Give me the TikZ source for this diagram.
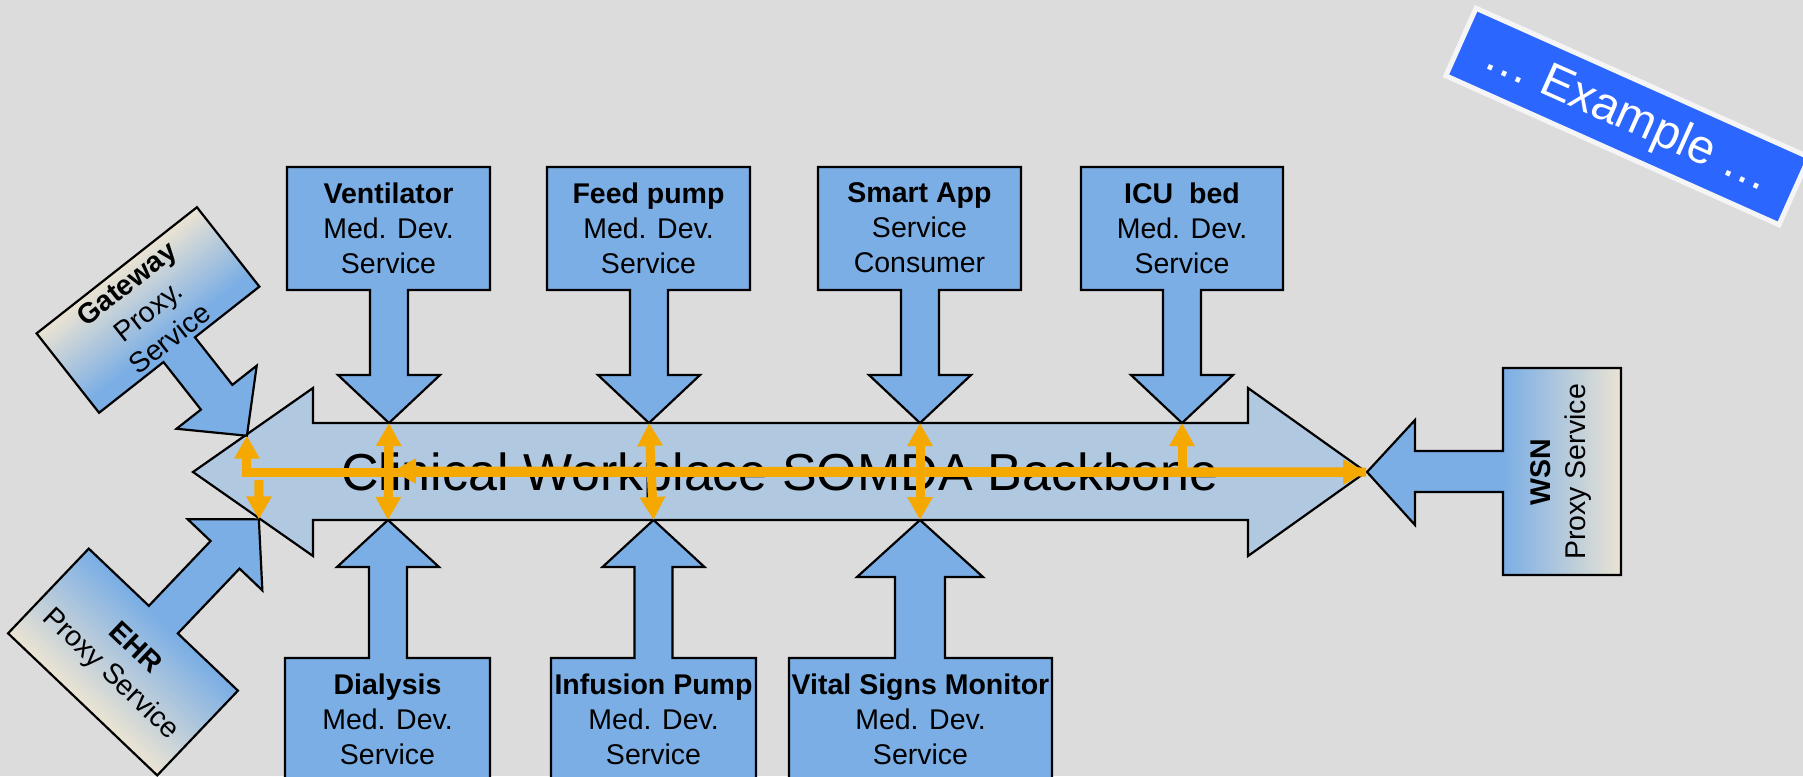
\documentclass[tikz,border=0pt]{standalone}
\usepackage{fontspec}
\setmainfont{Liberation Sans}
\usetikzlibrary{arrows.meta}
\definecolor{bg}{HTML}{DCDCDC}
\definecolor{devblue}{HTML}{7BAEE5}
\definecolor{busblue}{HTML}{B1C8E1}
\definecolor{cream}{HTML}{EAE3D3}
\definecolor{busorange}{HTML}{F5A800}
\definecolor{bannerblue}{HTML}{2B66FF}
\tikzset{
  outline/.style={draw=black, line width=2.2pt, line join=miter},
  unit/.style={outline, fill=devblue},
  boxtext/.style={align=center, inner sep=0pt, text=black,
    font=\fontsize{28.5}{35}\selectfont},
  link/.style={draw=busorange, line width=9pt, -{Triangle[width=24pt,length=23pt]}},
  dlink/.style={draw=busorange, line width=9pt,
    {Triangle[width=24pt,length=23pt]}-{Triangle[width=24pt,length=23pt]}},
}
% device box above the backbone, arrow pointing down
\newcommand\topdev[5]{%
  \draw[unit] (#1,167) -- (#2,167) -- (#2,290) -- (#3+19,290) -- (#3+19,375)
    -- (#3+51,375) -- (#3,423) -- (#3-51,375) -- (#3-19,375) -- (#3-19,290)
    -- (#1,290) -- cycle;
  \node[boxtext] (#4) at ({(#1+#2)/2},228) {#5};
  \coordinate (#4tip) at (#3,423);
}
% device box below the backbone, arrow pointing up
% #1 left, #2 right, #3 arrow axis, #4 shaft half width, #5 head half width,
% #6 head base, #7 name, #8 text
\newcommand\botdev[8]{%
  \draw[unit] (#1,658) -- (#3-#4,658) -- (#3-#4,#6) -- (#3-#5,#6) -- (#3,520)
    -- (#3+#5,#6) -- (#3+#4,#6) -- (#3+#4,658) -- (#2,658) -- (#2,790)
    -- (#1,790) -- cycle;
  \node[boxtext] (#7) at ({(#1+#2)/2},719) {#8};
  \coordinate (#7tip) at (#3,520);
}
\begin{document}
\begin{tikzpicture}[x=1pt,y=-1pt]
\useasboundingbox (0,0) rectangle (1803,776);
\fill[bg] (0,0) rectangle (1803,776);
\clip (0,0) rectangle (1803,776);

% backbone
\draw[outline, fill=busblue] (193,472) -- (313,388) -- (313,423) -- (1248,423)
  -- (1248,388) -- (1366,472) -- (1248,556) -- (1248,520) -- (313,520)
  -- (313,556) -- cycle;
\node[anchor=base, inner sep=0pt, font=\fontsize{52}{60}\selectfont] (bbtext)
  at (780,490) {Clinical Workplace SOMDA Backbone};

% devices above
\topdev{287}{490}{389}{vent}{\textbf{Ventilator}\\Med. Dev.\\Service}
\topdev{547}{750}{649}{feed}{\textbf{Feed pump}\\Med. Dev.\\Service}
\topdev{818}{1021}{920}{smart}{\textbf{Smart App}\\Service\\Consumer}
\topdev{1081}{1283}{1182}{icu}{\textbf{ICU\ \ bed}\\Med. Dev.\\Service}

% devices below
\botdev{285}{490}{388}{19}{51}{567}{dial}{\textbf{Dialysis}\\Med. Dev.\\Service}
\botdev{551}{756}{653.5}{19}{51}{567}{inf}{\textbf{Infusion Pump}\\Med. Dev.\\Service}
\botdev{789}{1052}{920}{25}{63}{577}{vital}{\textbf{Vital Signs Monitor}\\Med. Dev.\\Service}

% gateway proxy (gradient laid as thin bands across the tilted box)
\begin{scope}[shift={(148,310)}, rotate=38.2]
  \foreach \i in {0,...,29} {
    \pgfmathtruncatemacro\p{min(100,100*\i/25)}
    \fill[devblue!\p!cream] (-102,{-50.5+\i*101/30})
      rectangle (102,{-50.5+(\i+1)*101/30+0.8});
  }
  \fill[devblue] (-20,49) -- (-20,111) -- (-51,111) -- (0,160) -- (51,111)
    -- (20,111) -- (20,49) -- cycle;
  \draw[outline] (-102,-50.5) -- (102,-50.5) -- (102,50.5) -- (20,50.5)
    -- (20,111) -- (51,111) -- (0,160) -- (-51,111) -- (-20,111) -- (-20,50.5)
    -- (-102,50.5) -- cycle;
  \coordinate (gwtip) at (0,160);
\end{scope}
\node[boxtext, rotate=38.2] (gw) at (148,311) {\textbf{Gateway}\\Proxy.\\Service};

% EHR proxy
\begin{scope}[shift={(123,662)}, rotate=-43.6]
  \foreach \i in {0,...,29} {
    \pgfmathtruncatemacro\p{100*\i/29}
    \fill[cream!\p!devblue] (-103,{-58.5+\i*117/30})
      rectangle (103,{-58.5+(\i+1)*117/30+0.8});
  }
  \fill[devblue] (-20,-57) -- (-20,-148) -- (-51.5,-148) -- (0,-197)
    -- (51.5,-148) -- (20,-148) -- (20,-57) -- cycle;
  \draw[outline] (-103,-58.5) -- (-20,-58.5) -- (-20,-148) -- (-51.5,-148)
    -- (0,-197) -- (51.5,-148) -- (20,-148) -- (20,-58.5) -- (103,-58.5)
    -- (103,58.5) -- (-103,58.5) -- cycle;
  \coordinate (ehrtip) at (0,-197);
\end{scope}
\node[boxtext, rotate=-43.6] (ehr) at (122,662) {\textbf{EHR}\\Proxy Service};

% WSN proxy
\shade[left color=devblue, right color=cream] (1503,368) rectangle (1621,575);
\fill[devblue] (1505,451) -- (1415,451) -- (1415,420) -- (1367,472)
  -- (1415,525) -- (1415,492) -- (1505,492) -- cycle;
\draw[outline] (1503,368) -- (1621,368) -- (1621,575) -- (1503,575)
  -- (1503,492) -- (1415,492) -- (1415,525) -- (1367,472) -- (1415,420)
  -- (1415,451) -- (1503,451) -- cycle;
\coordinate (wsntip) at (1366,472);
\node[boxtext, rotate=90] (wsn) at (1561,472) {\textbf{WSN}\\Proxy Service};

% banner
\begin{scope}[shift={(1627.5,116.5)}, rotate=-24.1]
  \draw[draw=white!96!black, line width=5pt, fill=bannerblue]
    (-182.5,-37) rectangle (182.5,37);
\end{scope}
\node[rotate=-24.1, text=white, inner sep=0pt,
  font=\fontsize{48}{56}\selectfont] (banner) at (1627.5,118) {… Example …};

% message flows on the backbone
\coordinate (ehrstart) at (259,480);
\coordinate (icustart) at (1182,476);
\coordinate (ventright) at (393,471);
\draw[link] (wsntip) -- (ventright);
\draw[dlink] (gwtip) |- (wsntip);
\draw[link] (ehrstart) -- (ehrtip);
\draw[dlink] (venttip) -- (dialtip);
\draw[dlink] (feedtip) -- (inftip);
\draw[dlink] (smarttip) -- (vitaltip);
\draw[link] (icustart) -- (icutip);
\end{tikzpicture}
\end{document}
